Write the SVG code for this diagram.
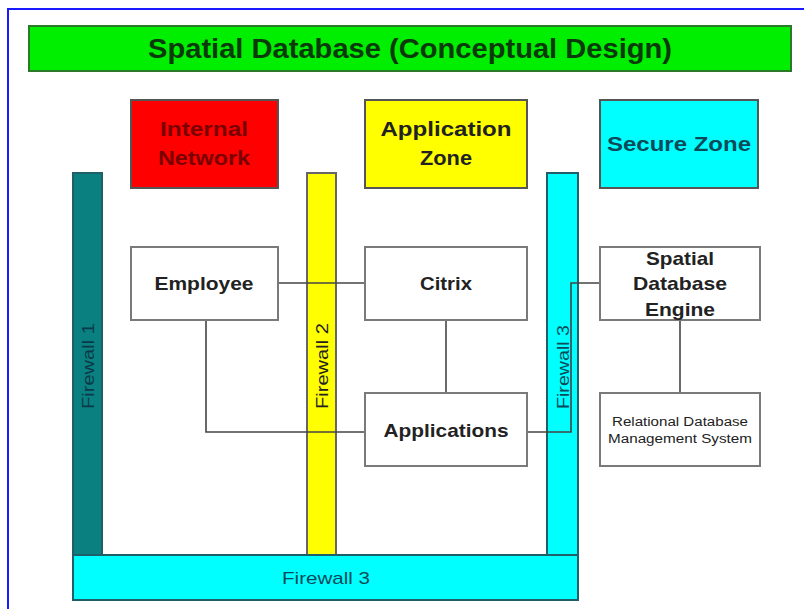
<svg xmlns="http://www.w3.org/2000/svg" width="804" height="609" viewBox="0 0 804 609">
<style>
.box{fill:#ffffff;stroke:#7a7a7a;stroke-width:2}
.zone{stroke:#555;stroke-width:2}
.fw{stroke:#1f5f6a;stroke-width:2}
.t{font-family:"Liberation Sans",Arial,sans-serif;font-weight:bold;text-anchor:middle;fill:#222}
.n{font-weight:normal}
.c{fill:none;stroke:#444;stroke-width:1.6}
</style>
<rect width="804" height="609" fill="#ffffff"/>
<rect x="8" y="9" width="800" height="606" fill="none" stroke="#1a1aff" stroke-width="2"/>
<g id="title">
<rect x="29" y="26" width="762" height="45" fill="#00ee00" stroke="#2a7a2a" stroke-width="2"/>
<text class="t" x="410" y="58" font-size="28" textLength="524" lengthAdjust="spacingAndGlyphs" style="fill:#0a3a0a">Spatial Database (Conceptual Design)</text>
</g>
<g id="internal-network">
<rect class="zone" x="131" y="100" width="147" height="88" fill="#ff0000"/>
<text class="t" x="204" y="136" font-size="21" textLength="88" lengthAdjust="spacingAndGlyphs" style="fill:#7a0000">Internal</text>
<text class="t" x="204" y="165" font-size="21" textLength="92" lengthAdjust="spacingAndGlyphs" style="fill:#7a0000">Network</text>
</g>
<g id="application-zone">
<rect class="zone" x="365" y="100" width="162" height="88" fill="#ffff00"/>
<text class="t" x="446" y="136" font-size="21" textLength="131" lengthAdjust="spacingAndGlyphs">Application</text>
<text class="t" x="446" y="165" font-size="21" textLength="52" lengthAdjust="spacingAndGlyphs">Zone</text>
</g>
<g id="secure-zone">
<rect class="zone" x="600" y="100" width="158" height="88" fill="#00ffff"/>
<text class="t" x="679" y="151" font-size="21" textLength="144" lengthAdjust="spacingAndGlyphs" style="fill:#0a4a5a">Secure Zone</text>
</g>
<g id="firewall-1">
<rect class="fw" x="73" y="173" width="29" height="382" fill="#0a8080"/>
<text class="t n" x="0" y="0" font-size="16" textLength="86" lengthAdjust="spacingAndGlyphs" transform="translate(94,366) rotate(-90)" style="fill:#0a3a4a">Firewall 1</text>
</g>
<g id="firewall-2">
<rect x="307" y="173" width="29" height="382" fill="#ffff00" stroke="#666" stroke-width="2"/>
<text class="t n" x="0" y="0" font-size="16" textLength="86" lengthAdjust="spacingAndGlyphs" transform="translate(328,366) rotate(-90)">Firewall 2</text>
</g>
<g id="firewall-3">
<rect class="fw" x="547" y="173" width="31" height="382" fill="#00ffff"/>
<text class="t n" x="0" y="0" font-size="16" textLength="84" lengthAdjust="spacingAndGlyphs" transform="translate(569,367) rotate(-90)" style="fill:#0a4a5a">Firewall 3</text>
</g>
<g id="firewall-3-base">
<rect class="fw" x="73" y="555" width="505" height="45" fill="#00ffff"/>
<text class="t n" x="326" y="584" font-size="17" textLength="88" lengthAdjust="spacingAndGlyphs" style="fill:#0a4a5a">Firewall 3</text>
</g>
<g id="connectors">
<path class="c" d="M278 283 H365"/>
<path class="c" d="M206 320 V432 H365"/>
<path class="c" d="M446 320 V393"/>
<path class="c" d="M527 432 H571 V283 H600"/>
<path class="c" d="M680 320 V393"/>
</g>
<g id="employee">
<rect class="box" x="131" y="247" width="147" height="73"/>
<text class="t" x="204" y="290" font-size="19" textLength="99" lengthAdjust="spacingAndGlyphs">Employee</text>
</g>
<g id="citrix">
<rect class="box" x="365" y="247" width="162" height="73"/>
<text class="t" x="446" y="290" font-size="19" textLength="52" lengthAdjust="spacingAndGlyphs">Citrix</text>
</g>
<g id="spatial-database-engine">
<rect class="box" x="600" y="247" width="160" height="73"/>
<text class="t" x="680" y="265" font-size="19" textLength="68" lengthAdjust="spacingAndGlyphs">Spatial</text>
<text class="t" x="680" y="290" font-size="19" textLength="94" lengthAdjust="spacingAndGlyphs">Database</text>
<text class="t" x="680" y="316" font-size="19" textLength="70" lengthAdjust="spacingAndGlyphs">Engine</text>
</g>
<g id="applications">
<rect class="box" x="365" y="393" width="162" height="73"/>
<text class="t" x="446" y="437" font-size="19" textLength="125" lengthAdjust="spacingAndGlyphs">Applications</text>
</g>
<g id="rdbms">
<rect class="box" x="600" y="393" width="160" height="73"/>
<text class="t n" x="680" y="426" font-size="12.5" textLength="136" lengthAdjust="spacingAndGlyphs">Relational Database</text>
<text class="t n" x="680" y="443" font-size="12.5" textLength="144" lengthAdjust="spacingAndGlyphs">Management System</text>
</g>
</svg>
